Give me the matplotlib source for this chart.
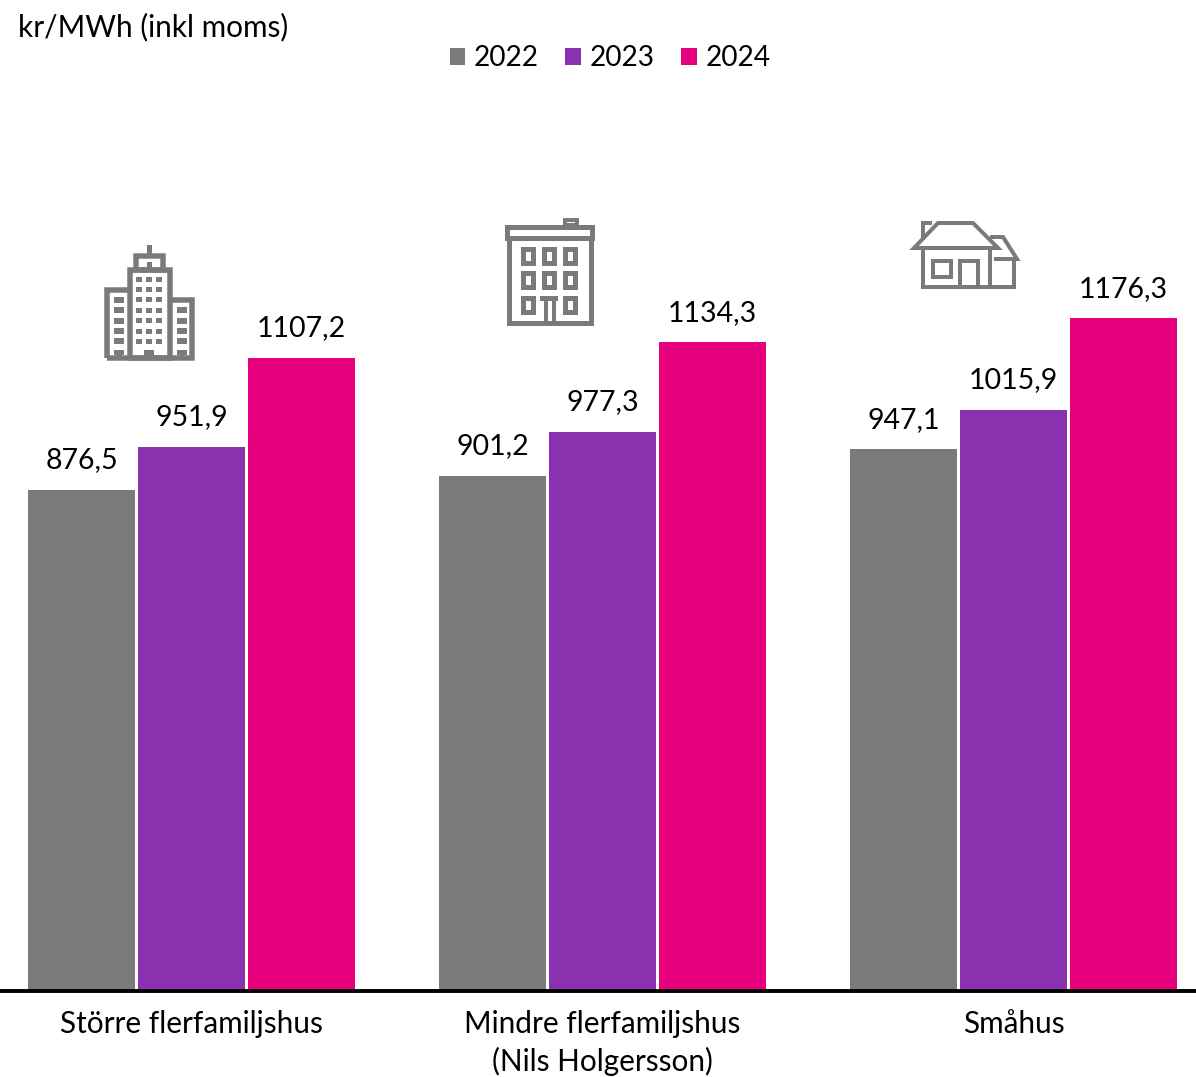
import numpy as np
import matplotlib
matplotlib.use("Agg")
import matplotlib.pyplot as plt
from matplotlib.patches import Rectangle, Polygon

plt.rcParams['font.family'] = ['Lato', 'DejaVu Sans']

categories = ['Större flerfamiljshus', 'Mindre flerfamiljshus\n(Nils Holgersson)', 'Småhus']
years = ['2022', '2023', '2024']
values_2022 = [876.5, 901.2, 947.1]
values_2023 = [951.9, 977.3, 1015.9]
values_2024 = [1107.2, 1134.3, 1176.3]
colors = ['#7A7A7A', '#8A31B0', '#E6007E']

FS = 20.5
FS_TEXT = 21.4
ICON = '#7A7A7A'

fig = plt.figure(figsize=(11.96, 10.77), dpi=100)
H = 1077.0
ax = fig.add_axes([0, (H - 991) / H, 1, 915 / H])

pitch = 110 / 411
width = 107.5 / 411
x = np.arange(len(categories))
series = [values_2022, values_2023, values_2024]
for i, vals in enumerate(series):
    bars = ax.bar(x + (i - 1) * pitch, vals, width, color=colors[i], label=years[i])
    ax.bar_label(bars, labels=[f'{v:.1f}'.replace('.', ',') for v in vals],
                 padding=12, fontsize=FS, color='black')

ax.set_xlim(-191.5 / 411, (1196 - 191.5) / 411)
ax.set_ylim(0, 1600)
ax.set_xticks(x)
ax.set_xticklabels(categories, fontsize=FS_TEXT, linespacing=1.36)
ax.tick_params(axis='x', length=0, pad=14)
ax.set_yticks([])
for s in ['top', 'left', 'right']:
    ax.spines[s].set_visible(False)
ax.spines['bottom'].set_linewidth(2.8)
ax.spines['bottom'].set_color('black')

leg = ax.legend(loc='center', bbox_to_anchor=(610 / 1196, 1 - 58 / 915 + 76 / 915), ncol=3, frameon=False,
                fontsize=20.2, handlelength=0.56, handleheight=0.56, handletextpad=0.3,
                columnspacing=0.95)

fig.text(18 / 1196, 1 - 27 / H, 'kr/MWh (inkl moms)', fontsize=FS_TEXT, ha='left', va='center')

# icons, drawn on an overlay in pixel coordinates
ov = fig.add_axes([0, 0, 1, 1], facecolor='none')
ov.set_xlim(0, 1196)
ov.set_ylim(1077, 0)
ov.axis('off')


def box(x0, y0, x1, y1, lw=0, fill=False):
    ov.add_patch(Rectangle((x0, y0), x1 - x0, y1 - y0, fill=fill, facecolor=ICON if fill else 'none',
                           edgecolor=ICON, lw=lw * 0.72, joinstyle='miter'))


def line(pts, lw, closed=False):
    ov.add_patch(Polygon(pts, closed=closed, fill=False, edgecolor=ICON, lw=lw * 0.72, joinstyle='miter'))


# tall block
line([(106.5, 357.5), (106.5, 289.5), (129.5, 289.5)], 5.5)
line([(170, 299.5), (192, 299.5), (192, 357.5), (106.5, 357.5)], 5.5)
box(129.5, 269.5, 170, 357.5, lw=5.5)
box(135.5, 255.5, 163, 269.5, lw=5.5)
box(147, 245, 151.5, 254, fill=True)
box(147, 262, 151.5, 268, fill=True)
for wy in [279, 289, 299, 310, 320, 331, 341]:
    for wx in [139, 149, 159]:
        box(wx - 3.2, wy - 2.5, wx + 3.2, wy + 2.5, fill=True)
for wy in [300, 310, 321, 331, 341]:
    box(114, wy - 2.8, 124, wy + 2.8, fill=True)
for wy in [310, 321, 331, 341]:
    box(177, wy - 2.8, 187, wy + 2.8, fill=True)
for dx in [119, 149, 182]:
    box(dx - 5, 350, dx + 5, 355, fill=True)
    box(dx - 2, 350, dx + 2, 358, fill=True)

# smaller block of flats
box(506.5, 227, 591.5, 238, lw=5)
box(508.5, 238, 590.5, 323, lw=5)
box(564.5, 219.5, 576.5, 225, lw=4)
for wy0, wy1 in [(249, 263), (273, 287), (298, 312)]:
    for wx0, wx1 in [(523, 533), (544, 554), (565, 575)]:
        if wy0 == 298 and wx0 == 544:
            continue
        box(wx0, wy0, wx1, wy1, lw=5)
box(540, 296, 558, 301, fill=True)
box(544, 301, 548, 323, fill=True)
box(552, 301, 556, 323, fill=True)

# house
line([(914, 248), (938, 223), (973, 223), (998, 248)], 4, closed=True)
line([(923, 240), (923, 223), (932, 223)], 4)
line([(990, 237), (1003, 237), (1017, 259), (994, 259)], 4)
line([(923, 248), (923, 287), (1014, 287), (1014, 259)], 4)
line([(990, 248), (990, 287)], 4)
box(933, 261, 951, 277, lw=4)
line([(960, 287), (960, 261), (978, 261), (978, 287)], 4)

fig.savefig('out.png', dpi=100)
